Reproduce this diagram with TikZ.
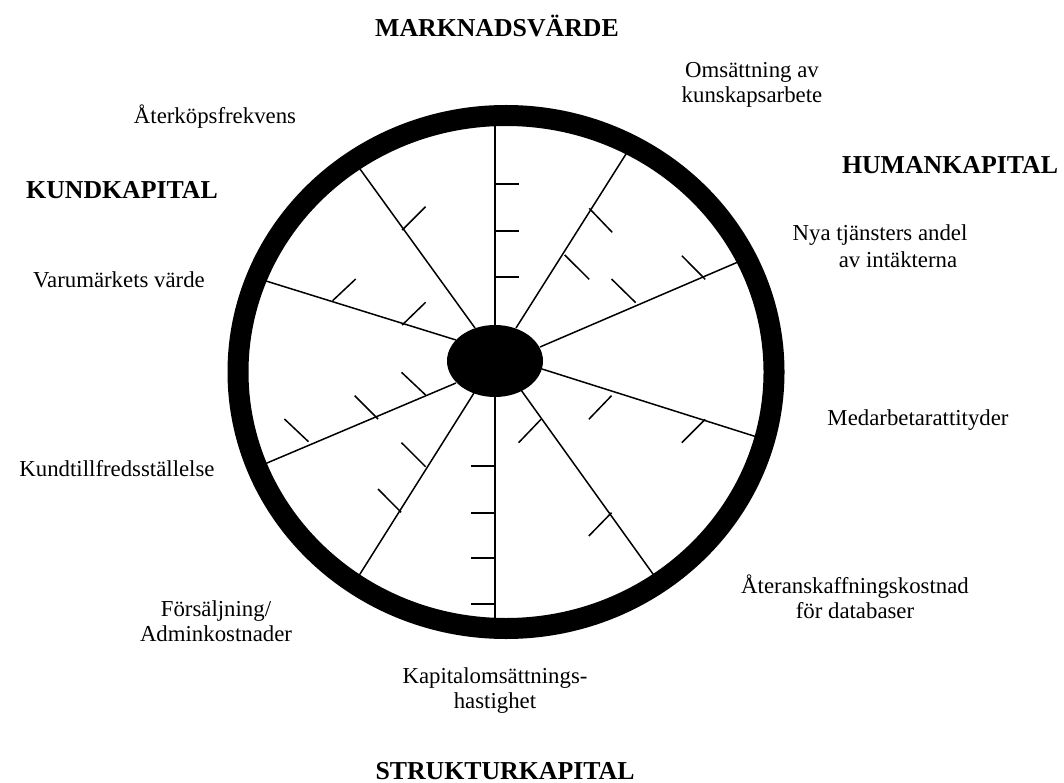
\documentclass[tikz,border=0pt]{standalone}
\usepackage{fontspec}
\setmainfont{Liberation Serif}
\begin{document}
\begin{tikzpicture}[x=1pt,y=-1pt,
  lbl/.style={font=\fontsize{22.8}{25}\selectfont, align=center, inner sep=0pt},
  head/.style={font=\fontsize{25.8}{28}\selectfont\bfseries, inner sep=0pt},
  spoke/.style={line width=1.5pt, shorten >=-6pt},
  tick/.style={line width=1.5pt}]
\useasboundingbox (0,0) rectangle (1064,783);

% hub and spoke end points
\coordinate (hub) at (495,361);
\coordinate (o1) at (495,126);  \coordinate (i1) at (495,325);
\coordinate (o2) at (626,154);  \coordinate (i2) at (516,328);
\coordinate (o3) at (738,262);  \coordinate (i3) at (540,347);
\coordinate (o4) at (757,437);  \coordinate (i4) at (542,369);
\coordinate (o5) at (653,574);  \coordinate (i5) at (521,390);
\coordinate (o6) at (495,618);  \coordinate (i6) at (495,397);
\coordinate (o7) at (360,574);  \coordinate (i7) at (474,393);
\coordinate (o8) at (267,463);  \coordinate (i8) at (456,383);
\coordinate (o9) at (266,281);  \coordinate (i9) at (456,340);
\coordinate (o10) at (360,169); \coordinate (i10) at (475,328);

% spokes
\foreach \k in {1,...,10} \draw[spoke] (i\k) -- (o\k);

% scale ticks on the vertical spokes
\foreach \yy in {184,231,277} \draw[tick] (495,\yy) -- (519,\yy);
\foreach \yy in {466,513,558,604} \draw[tick] (471,\yy) -- (495,\yy);

% scale ticks on the slanted spokes
\draw[tick] (402.2,230) -- (425.6,206.7);
\draw[tick] (332.6,300.7) -- (355.7,279);
\draw[tick] (402.2,325) -- (425.6,302.3);
\draw[tick] (589.2,208.3) -- (612.2,232.3);
\draw[tick] (564.7,255) -- (589.2,279.3);
\draw[tick] (611.5,279) -- (635.7,302.7);
\draw[tick] (681.8,255.7) -- (705.2,279.3);
\draw[tick] (284.4,419) -- (308.5,441.7);
\draw[tick] (354.7,395.7) -- (378,419);
\draw[tick] (401.5,372.3) -- (425.6,395);
\draw[tick] (401.5,442.7) -- (425.6,466.7);
\draw[tick] (378,489) -- (401.1,512.3);
\draw[tick] (518.6,442.7) -- (541,419.3);
\draw[tick] (588.8,536) -- (611.5,512.7);
\draw[tick] (588.8,419.3) -- (611.5,395.7);
\draw[tick] (681.8,442.7) -- (705.2,419.3);

% rim and hub
\draw[line width=21pt] (506,372) ellipse [x radius=268pt, y radius=256.5pt];
\fill (hub) ellipse [x radius=48pt, y radius=36pt];

% headings
\node[head] (mv) at (497,26) {MARKNADSVÄRDE};
\node[head] (kk) at (122,190) {KUNDKAPITAL};
\node[head] (hk) at (950,165) {HUMANKAPITAL};
\node[head] (sk) at (505,771) {STRUKTURKAPITAL};

% indicator labels
\node[lbl] (t1) at (752,84.5) {Omsättning av\\kunskapsarbete};
\node[lbl] (t2) at (215,117) {Återköpsfrekvens};
\node[lbl] (t3a) at (880,235) {Nya tjänsters andel};
\node[lbl] (t3b) at (898,260) {av intäkterna};
\node[lbl] (t4) at (119,280) {Varumärkets värde};
\node[lbl] (t5) at (918,420) {Medarbetarattityder};
\node[lbl] (t6) at (117,469) {Kundtillfredsställelse};
\node[lbl] (t7) at (855,597) {Återanskaffningskostnad\\för databaser};
\node[lbl] (t8) at (216,621.5) {Försäljning/\\Adminkostnader};
\node[lbl] (t9) at (495,691) {Kapitalomsättnings-\\hastighet};
\end{tikzpicture}
\end{document}
